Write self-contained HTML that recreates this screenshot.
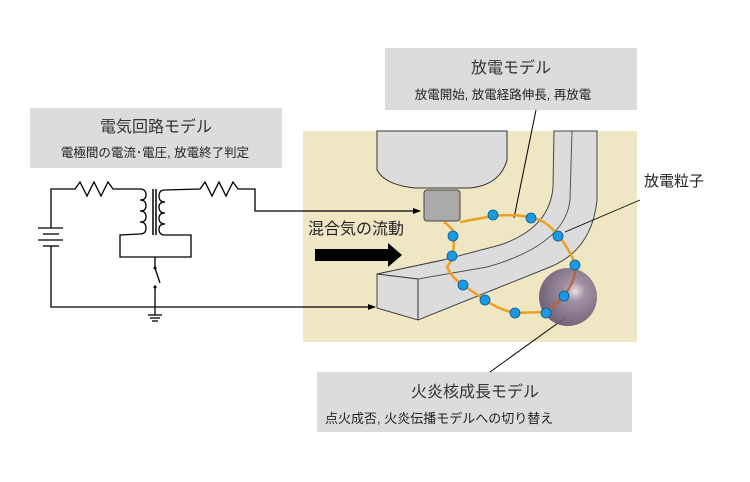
<!DOCTYPE html>
<html><head><meta charset="utf-8"><style>
html,body{margin:0;padding:0;background:#fff;}
svg{display:block;font-family:"Liberation Sans","Noto Sans CJK JP",sans-serif;}
</style></head><body>
<svg width="750" height="482" viewBox="0 0 750 482" xmlns="http://www.w3.org/2000/svg">
<defs>
<radialGradient id="sp" cx="0.62" cy="0.4" r="0.7">
<stop offset="0" stop-color="#e8e0e8"/><stop offset="0.25" stop-color="#9a8aa0"/><stop offset="1" stop-color="#5e5068"/>
</radialGradient>
<marker id="ar" markerWidth="8" markerHeight="8" refX="7" refY="4" orient="auto" markerUnits="userSpaceOnUse"><path d="M0,1 L8,4 L0,7z" fill="#000"/></marker>
</defs>
<rect x="30" y="108" width="252" height="60" fill="#dcdcdc"/>
<text x="156" y="132" font-size="16" text-anchor="middle" fill="#333">電気回路モデル</text>
<text x="155" y="157" font-size="12.5" text-anchor="middle" fill="#222">電極間の電流･電圧, 放電終了判定</text>
<rect x="385" y="48" width="252" height="62" fill="#dcdcdc"/>
<text x="511" y="73" font-size="16" text-anchor="middle" fill="#333">放電モデル</text>
<text x="503" y="99" font-size="12.5" text-anchor="middle" fill="#222">放電開始, 放電経路伸長, 再放電</text>
<rect x="317" y="372" width="315" height="60" fill="#dcdcdc"/>
<text x="475" y="397" font-size="16" text-anchor="middle" fill="#333">火炎核成長モデル</text>
<text x="325" y="423" font-size="13" fill="#222">点火成否, 火炎伝播モデルへの切り替え</text>
<rect x="303" y="131" width="334" height="211" fill="#efe6c4"/>
<path d="M377,131 L507,131 L507,160 Q500,185 470,188 L415,188 Q385,185 377,170 Z" fill="#dcdcdc" stroke="#333" stroke-width="1"/>
<rect x="424" y="190" width="36" height="31" rx="3" fill="#aaaaaa" stroke="#444" stroke-width="1"/>
<!-- ground electrode -->
<path d="M377,274 L443,260 L500,245 Q550,228 553,187 L554,131 L597,131 L597,200 Q592,250 550,267 L418,320 L377,308 Z" fill="#dcdcdc" stroke="#444" stroke-width="1"/>
<path d="M377,274 L418,279 L418,320" fill="none" stroke="#333" stroke-width="1"/>
<path d="M418,279 L487,267 Q565,245 570,200 L572,131" fill="none" stroke="#555" stroke-width="1"/>
<path d="M377,274 L443,260" stroke="#333" stroke-width="1" stroke-dasharray="1,1"/>
<line x1="536" y1="110" x2="514" y2="218" stroke="#000" stroke-width="1"/>
<line x1="640" y1="200" x2="565" y2="232" stroke="#000" stroke-width="0.8"/>
<line x1="565" y1="318" x2="490" y2="372" stroke="#000" stroke-width="1"/>
<text x="644" y="186" font-size="15" fill="#222">放電粒子</text>
<path d="M444,222 Q458,232 454,240 L453,258 L447,267 Q452,278 463,285 L485,300 Q500,310 515,313 L545,312 Q560,305 566,296 L573,282 L576,265 Q560,230 540,220 Q520,213 493,216 L460,222" fill="none" stroke="#f0a020" stroke-width="2.5"/>
<circle cx="568" cy="297" r="29" fill="url(#sp)" opacity="0.92"/>
<path d="M576,265 Q575,292 545,312" fill="none" stroke="#c06030" stroke-width="2"/>
<g fill="#1a9ae0" stroke="#0a5a90" stroke-width="0.8">
<circle cx="493" cy="215" r="5"/><circle cx="531" cy="218" r="5"/><circle cx="558" cy="236" r="5"/>
<circle cx="575" cy="265" r="5"/><circle cx="564" cy="296" r="5"/><circle cx="546" cy="313" r="5"/>
<circle cx="515" cy="313" r="5"/><circle cx="485" cy="300" r="5"/><circle cx="463" cy="285" r="5"/>
<circle cx="452" cy="256" r="5"/><circle cx="453" cy="236" r="5"/>
</g>
<text x="308" y="234" font-size="16" fill="#222">混合気の流動</text>
<path d="M315,249 L388,249 L388,243 L402,255 L388,267 L388,261 L315,261 Z" fill="#000"/>
<g fill="none" stroke="#000" stroke-width="1.3">
<path d="M51,228 L51,189 L75,189 L80,182 L87,196 L94,182 L101,196 L108,182 L113,189 L125,189"/>
<path d="M125,189 L140,189 M140,189 q6,0 6,6 q0,5 -6,5 q6,0 6,6 q0,5 -6,5 q6,0 6,6 q0,5 -6,5 q6,0 6,6 q0,6 -6,6 L120,235 L120,257 L191,257 L191,235 L165,235 q-6,0 -6,-6 q0,-5 6,-5 q-6,0 -6,-6 q0,-5 6,-5 q-6,0 -6,-6 q0,-5 6,-5 q-6,0 -6,-6 q0,-6 6,-6 L200,189 L205,182 L212,196 L219,182 L226,196 L233,182 L238,189 L255,189 L255,211 L420,211" marker-end="url(#ar)"/>
<line x1="153" y1="189" x2="153" y2="235" stroke-width="1.5"/><line x1="156" y1="189" x2="156" y2="235" stroke-width="1.5"/>
<path d="M51,246 L51,307 L375,307" marker-end="url(#ar)"/>
<line x1="38" y1="228" x2="63" y2="228"/><line x1="43" y1="234" x2="59" y2="234"/><line x1="38" y1="240" x2="63" y2="240"/><line x1="43" y1="246" x2="59" y2="246"/>
<path d="M155,257 L155,268 M155,268 L160,283 M155,287 L155,315"/>
<line x1="148" y1="315" x2="162" y2="315"/><line x1="150" y1="318" x2="160" y2="318"/><line x1="152" y1="321" x2="158" y2="321"/>
</g>
<circle cx="155" cy="268" r="1.5"/><circle cx="155" cy="287" r="1.5"/>
</svg>
</body></html>
